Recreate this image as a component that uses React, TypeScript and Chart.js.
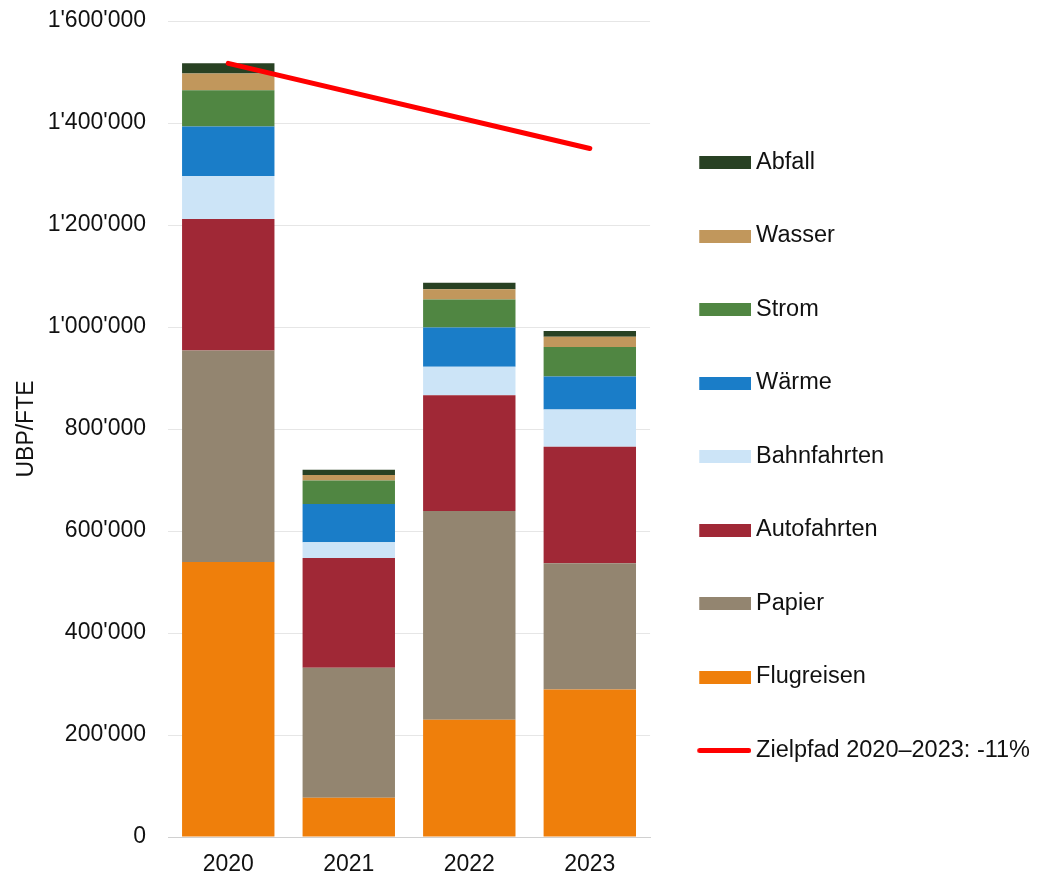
import React, { useEffect, useRef } from 'react';
import { Chart, registerables } from 'chart.js';

Chart.register(...registerables);

const CATEGORIES = ['2020', '2021', '2022', '2023'];

const FLUGREISEN = [539000, 77000, 230000, 289000];
const PAPIER = [415000, 255000, 409000, 248000];
const AUTOFAHRTEN = [258000, 215000, 227000, 228000];
const BAHNFAHRTEN = [84000, 31000, 56000, 73000];
const WAERME = [97000, 75000, 77000, 65000];
const STROM = [71000, 46000, 55000, 58000];
const WASSER = [33000, 11000, 20000, 20000];
const ABFALL = [20000, 10000, 13000, 11000];
const ZIELPFAD = [1517000, null, null, 1350000];

const Y_MIN = 0;
const Y_MAX = 1600000;
const Y_STEP = 200000;

const SERIES = [
  { label: 'Flugreisen', data: FLUGREISEN, color: '#EF7F0B' },
  { label: 'Papier', data: PAPIER, color: '#938570' },
  { label: 'Autofahrten', data: AUTOFAHRTEN, color: '#A02836' },
  { label: 'Bahnfahrten', data: BAHNFAHRTEN, color: '#CCE4F7' },
  { label: 'Wärme', data: WAERME, color: '#1A7DC8' },
  { label: 'Strom', data: STROM, color: '#508642' },
  { label: 'Wasser', data: WASSER, color: '#C1975C' },
  { label: 'Abfall', data: ABFALL, color: '#284123' },
];
const LINE_LABEL = 'Zielpfad 2020–2023: -11%';
const LINE_COLOR = '#FF0000';

const FONT = "'Liberation Sans', Arial, sans-serif";

function fmt(v: number): string {
  return String(Math.round(v)).replace(/\B(?=(\d{3})+(?!\d))/g, "'");
}

function boxImage(color: string) {
  const c = document.createElement('canvas');
  c.width = 58;
  c.height = 13;
  const g = c.getContext('2d')!;
  g.fillStyle = color;
  g.fillRect(6, 0, 52, 13);
  return c;
}

function lineImage(color: string) {
  const c = document.createElement('canvas');
  c.width = 58;
  c.height = 7;
  const g = c.getContext('2d')!;
  g.strokeStyle = color;
  g.lineWidth = 5;
  g.lineCap = 'round';
  g.beginPath();
  g.moveTo(6.5, 3.5);
  g.lineTo(55.5, 3.5);
  g.stroke();
  return c;
}

export default function App() {
  const ref = useRef<HTMLCanvasElement | null>(null);

  useEffect(() => {
    if (!ref.current) return;
    const images: any[] = SERIES.map((s) => boxImage(s.color));
    images.push(lineImage(LINE_COLOR));

    const datasets: any[] = SERIES.map((s) => ({
      type: 'bar',
      label: s.label,
      data: s.data,
      backgroundColor: s.color,
      borderWidth: 0,
      barPercentage: 0.7667,
      categoryPercentage: 1,
      stack: 'main',
    }));
    datasets.push({
      type: 'line',
      label: LINE_LABEL,
      data: ZIELPFAD,
      borderColor: LINE_COLOR,
      backgroundColor: LINE_COLOR,
      borderWidth: 5,
      borderCapStyle: 'round',
      pointRadius: 0,
      pointHoverRadius: 0,
      spanGaps: true,
      fill: false,
      order: -1,
      stack: 'ziel',
    });

    const nSeries = SERIES.length;
    const chart = new Chart(ref.current, {
      type: 'bar',
      data: { labels: CATEGORIES, datasets },
      options: {
        animation: false,
        responsive: false,
        layout: { padding: { top: 21, bottom: 1, left: 0, right: 0 } },
        plugins: {
          tooltip: { enabled: false },
          legend: {
            position: 'right',
            align: 'center',
            maxWidth: 392,
            title: { display: true, text: '', font: { size: 10, lineHeight: 1 }, padding: 2 },
            labels: {
              usePointStyle: true,
              pointStyleWidth: 44.25,
              padding: 50,
              color: '#111111',
              font: { family: FONT, size: 23.5 },
              generateLabels: (ch: any) => {
                const items = Chart.defaults.plugins.legend.labels.generateLabels(ch);
                return items.map((it: any) => ({
                  ...it,
                  pointStyle: images[it.datasetIndex],
                  lineWidth: 0,
                  strokeStyle: 'rgba(0,0,0,0)',
                }));
              },
              sort: (a: any, b: any) => {
                const r = (i: number) => (i >= nSeries ? 100 : nSeries - 1 - i);
                return r(a.datasetIndex) - r(b.datasetIndex);
              },
            },
          },
        },
        scales: {
          x: {
            stacked: true,
            grid: { display: false, drawTicks: false },
            border: { display: true, color: '#d0d0d0', width: 1 },
            ticks: { color: '#111111', font: { family: FONT, size: 23 }, padding: 14 },
            afterFit: (s: any) => {
              s.height = 41;
              s.paddingLeft = 0;
              s.paddingRight = 0;
            },
          },
          y: {
            stacked: true,
            min: Y_MIN,
            max: Y_MAX,
            grid: { color: '#e6e6e6', lineWidth: 1, drawTicks: false },
            border: { display: false },
            ticks: {
              stepSize: Y_STEP,
              color: '#111111',
              font: { family: FONT, size: 23 },
              padding: 22,
              callback: (v: any) => fmt(Number(v)),
            },
            title: {
              display: true,
              text: 'UBP/FTE',
              color: '#111111',
              font: { family: "'Liberation Sans Narrow', 'Liberation Sans', Arial, sans-serif", size: 23 },
              padding: { top: 13, bottom: 7 },
            },
            afterFit: (s: any) => {
              s.width = 168;
              s.paddingTop = 0;
              s.paddingBottom = 0;
            },
          },
        },
      } as any,
    });
    return () => chart.destroy();
  }, []);

  return (
    <div style={{ position: 'fixed', left: 0, top: 0, width: 1040, height: 879, background: '#ffffff' }}>
      <canvas ref={ref} width={1040} height={879} style={{ display: 'block', width: 1040, height: 879 }} />
    </div>
  );
}
